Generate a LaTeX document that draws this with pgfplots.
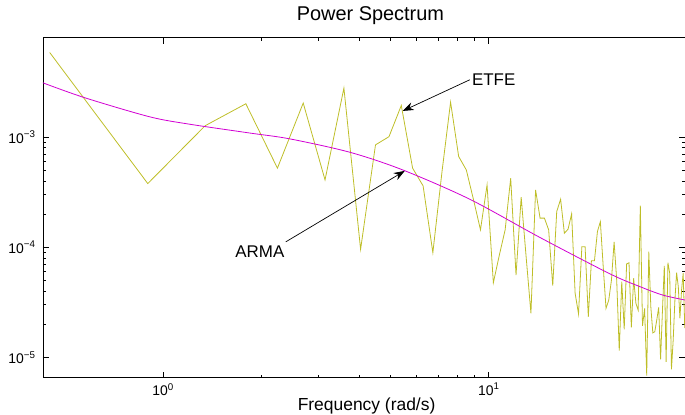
\documentclass[border=0pt]{standalone}
\usepackage{fontspec}
\setmainfont{Liberation Sans}
\usepackage{pgfplots}
\usepackage{pgfplotstable}
\pgfplotsset{compat=1.18}
\usetikzlibrary{calc,arrows.meta}
\definecolor{etfecol}{RGB}{190,190,40}
\definecolor{armacol}{RGB}{210,0,210}

% ETFE estimate, frequencies k*pi/7
\pgfplotstableread{
w P
0.4488 5.87e-3
0.8976 3.79e-4
1.3464 1.27e-3
1.7952 2.01e-3
2.2440 5.23e-4
2.6928 2.04e-3
3.1416 4.09e-4
3.5904 2.79e-3
4.0392 9.59e-5
4.4880 8.51e-4
4.9368 1.01e-3
5.3856 1.94e-3
5.8344 5.23e-4
6.2832 3.61e-4
6.7320 8.93e-5
7.1808 4.84e-4
7.6296 2.08e-3
8.0784 6.67e-4
8.5272 5.04e-4
8.9760 2.69e-4
9.4248 1.44e-4
9.8736 3.68e-4
10.3224 4.76e-5
10.7712 8.51e-5
11.2200 1.44e-4
11.6688 4.24e-4
12.1176 5.60e-5
12.5664 2.85e-4
13.0152 8.16e-5
13.4640 2.51e-5
13.9128 3.32e-4
14.3616 1.84e-4
14.8104 1.84e-4
15.2592 1.44e-4
15.7080 4.48e-5
16.1568 2.11e-4
16.6056 2.73e-4
17.0544 1.34e-4
17.5032 1.46e-4
17.9520 2.01e-4
18.4008 3.82e-5
18.8496 2.48e-5
19.2984 1.01e-4
19.7472 1.01e-4
20.1960 2.34e-5
20.6448 7.55e-5
21.0936 7.55e-5
21.5424 1.39e-4
21.9912 1.71e-4
22.4400 6.67e-5
22.8888 2.79e-5
23.3375 3.32e-5
23.7863 5.04e-5
24.2351 1.12e-4
24.6839 5.04e-5
25.1327 1.15e-5
25.5815 4.87e-5
26.0303 1.80e-5
26.4791 7.05e-5
26.9279 7.24e-5
27.3767 1.87e-5
27.8255 5.23e-5
28.2743 3.10e-5
28.7231 2.69e-5
29.1719 2.39e-4
29.6207 1.93e-5
30.0695 2.79e-5
30.5183 6.84e-6
30.9671 9.12e-5
31.4159 2.88e-5
31.8647 1.67e-5
32.3135 1.71e-5
32.7623 2.18e-5
33.2111 2.85e-5
33.6599 9.59e-6
34.1087 2.65e-5
34.5575 6.76e-5
35.0063 9.12e-6
35.4551 7.24e-5
35.9039 5.81e-5
36.3527 7.78e-6
36.8015 1.44e-5
37.2503 3.32e-5
37.6991 5.88e-5
38.1479 4.39e-5
38.5967 2.26e-5
39.0455 4.09e-5
39.4943 5.81e-5
39.9431 1.84e-5
}\etfedata

% ARMA model spectrum
\pgfplotstableread{
w P
0.427 3.12e-3
0.575 2.28e-3
0.910 1.53e-3
1.208 1.31e-3
1.846 1.09e-3
2.448 9.65e-4
3.74 7.30e-4
5.44 5.04e-4
8.74 2.73e-4
14.33 1.23e-4
23.5 5.75e-5
29.1 4.39e-5
34.2 3.68e-5
40.0 3.32e-5
}\armadata

\begin{document}
\begin{tikzpicture}
\begin{axis}[
  name=ax,
  scale only axis,
  width=642bp, height=340bp,
  xmode=log, ymode=log,
  xmin=0.428, xmax=40,
  ymin=6.54e-6, ymax=8e-3,
  axis line style={line width=0.9bp},
  every tick/.style={black, line width=0.8bp},
  major tick length=6bp, minor tick length=3bp,
  tick align=inside,
  xtick={1,10}, xticklabels={10\textsuperscript{0},10\textsuperscript{1}},
  ytick={1e-5,1e-4,1e-3}, yticklabels={10\textsuperscript{−5},10\textsuperscript{−4},10\textsuperscript{−3}},
  tick label style={font=\fontsize{14}{15}\selectfont},
  yticklabel style={xshift=-4bp},
  xticklabel style={yshift=-2bp},
  title={Power Spectrum},
  title style={font=\fontsize{20}{22}\selectfont, at={(axis description cs:0.51,1)}, anchor=base, yshift=11.7bp},
  xlabel={Frequency (rad/s)},
  xlabel style={font=\fontsize{17.5}{19}\selectfont, at={(axis description cs:0.504,0)}, anchor=base, yshift=-32.3bp},
  clip=true,
]
\addplot[etfecol, line width=0.8bp] table[x=w, y=P] {\etfedata};
\addplot[armacol, line width=0.8bp, smooth] table[x=w, y=P] {\armadata};
\node[anchor=west, font=\fontsize{17}{18}\selectfont, inner sep=0pt] at (axis cs:8.87,3.32e-3) {ETFE};
\draw[line width=0.7bp, -{Stealth[length=11bp,width=8bp]}] (axis cs:8.74,3.32e-3) -- (axis cs:5.44,1.73e-3);
\node[anchor=east, font=\fontsize{17}{18}\selectfont, inner sep=0pt] at (axis cs:2.36,9.06e-5) {ARMA};
\draw[line width=0.7bp, -{Stealth[length=11bp,width=8bp]}] (axis cs:2.38,1.12e-4) -- (axis cs:5.52,4.94e-4);
\end{axis}
\pgfresetboundingbox
\path ($(ax.south west)+(-43bp,-37.3bp)$) rectangle ($(ax.north east)+(0bp,37.7bp)$);
\end{tikzpicture}
\end{document}
